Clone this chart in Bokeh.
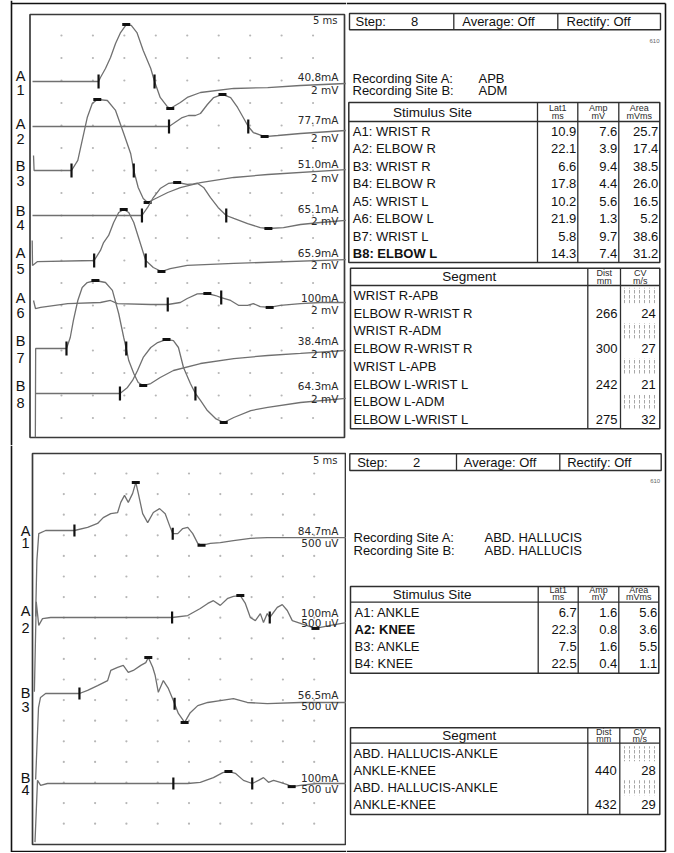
import numpy as np
from bokeh.plotting import figure
from bokeh.layouts import row, column
from bokeh.models import Range1d
from bokeh.core.properties import value
from bokeh.embed import file_html
from bokeh.resources import INLINE

# ============================ DATA ============================
SWEEP = "5 ms"

# ---------- upper study: recording APB / ADM, 2 mV ----------
up_step = 8
up_rec = ["APB", "ADM"]
up_sites = ["A1: WRIST R", "A2: ELBOW R", "B3: WRIST R", "B4: ELBOW R",
            "A5: WRIST L", "A6: ELBOW L", "B7: WRIST L", "B8: ELBOW L"]
up_lat = [10.9, 22.1, 6.6, 17.8, 10.2, 21.9, 5.8, 14.3]
up_amp = [7.6, 3.9, 9.4, 4.4, 5.6, 1.3, 9.7, 7.4]
up_area = [25.7, 17.4, 38.5, 26.0, 16.5, 5.2, 38.6, 31.2]
up_stim = ["40.8mA", "77.7mA", "51.0mA", "65.1mA", "65.9mA", "100mA", "38.4mA", "64.3mA"]
up_gain = "2 mV"
up_cross = [19.8, 34.7, 16.5, 31.2, 18.4, 30.4, 15.3, 26.3]
up_segments = ["WRIST R-APB", "ELBOW R-WRIST R", "WRIST R-ADM", "ELBOW R-WRIST R",
               "WRIST L-APB", "ELBOW L-WRIST L", "ELBOW L-ADM", "ELBOW L-WRIST L"]
up_dist = [None, 266, None, 300, None, 242, None, 275]
up_cv = [None, 24, None, 27, None, 21, None, 32]

# waveforms: time (ms) and amplitude (mV, relative to baseline)
up_a1_t = [0.4, 10.9, 11.2, 12.0, 12.8, 13.6, 14.4, 15.3, 16.1, 17.0, 18.0, 19.2, 19.8, 20.7, 21.8,
           22.3, 23.9, 25.0, 27.1, 32.4, 37.8, 43.0, 50.2]
up_a1_v = [0.0, 0.0, 0.38, 1.23, 2.27, 3.59, 4.63, 5.39, 5.30, 4.63, 2.93, 1.23, 0.0, -1.51, -2.36,
           -2.55, -1.99, -1.51, -1.04, -0.66, -0.57, -0.38, -0.19]
up_a2_t = [0.4, 22.1, 22.8, 24.2, 25.2, 26.3, 27.1, 28.2, 29.2, 30.6, 31.9, 33.0, 33.9, 34.7, 35.5,
           37.3, 39.4, 43.0, 50.2]
up_a2_v = [0.0, 0.0, 0.28, 0.85, 1.04, 1.04, 1.23, 2.08, 2.74, 3.03, 2.74, 1.80, 0.85, 0.0, -0.57,
           -0.95, -0.85, -0.66, -0.38]
up_b3_t = [0.56, 0.65, 6.6, 7.6, 8.3, 9.1, 9.9, 10.7, 12.3, 13.6, 14.9, 16.0, 16.5, 17.2, 18.0,
           18.7, 20.3, 21.9, 23.9, 27.1, 32.4, 37.8, 50.2]
up_b3_v = [1.42, 0.0, 0.0, 0.95, 2.84, 5.01, 6.34, 6.72, 6.62, 5.68, 3.50, 1.61, 0.0, -1.61, -2.65,
           -3.03, -2.55, -2.08, -1.61, -1.14, -0.66, -0.38, 0.09]
up_b4_t = [0.4, 17.8, 18.7, 19.6, 20.7, 22.0, 23.4, 25.0, 26.0, 26.6, 27.6, 28.7, 29.9, 31.2, 32.4,
           34.6, 36.6, 37.9, 40.3, 43.0, 46.2, 50.2]
up_b4_v = [0.0, 0.0, 0.76, 1.70, 2.55, 3.03, 3.12, 2.95, 3.00, 3.05, 2.65, 1.70, 0.76, 0.0, -0.28,
           -0.76, -1.14, -1.23, -1.14, -0.85, -0.66, -0.47]
up_a5_t = [0.35, 0.4, 1.2, 10.2, 11.2, 11.7, 12.5, 13.3, 14.1, 14.9, 15.7, 16.5, 17.2, 18.4, 19.6,
           20.9, 22.3, 25.0, 32.4, 50.2]
up_a5_v = [1.9, -0.47, -0.1, 0.0, 0.95, 1.70, 2.37, 3.59, 4.54, 4.82, 4.54, 3.59, 2.27, 0.0, -0.66,
           -1.04, -0.76, -0.47, -0.28, 0.09]
up_a6_t = [0.56, 0.87, 1.7, 6.0, 11.2, 12.8, 13.9, 19.2, 21.9, 23.9, 25.0, 26.6, 28.2, 29.5, 30.4,
           31.9, 33.2, 34.6, 35.5, 36.6, 38.1, 39.8, 43.0, 46.2, 50.2]
up_a6_v = [0.38, -0.38, -0.28, 0.09, 0.19, 0.38, 0.09, 0.0, 0.0, 0.19, 0.57, 1.0, 1.04, 0.85, 0.66,
           0.38, -0.09, -0.09, 0.09, -0.2, -0.28, -0.09, 0.09, 0.19, 0.19]
up_b7_t = [0.85, 0.9, 5.8, 6.4, 6.9, 7.6, 8.3, 9.1, 10.4, 12.0, 13.1, 14.1, 14.9, 15.3, 15.7,
           16.5, 17.2, 18.0, 19.2, 20.7, 22.8, 27.1, 32.4, 37.8, 43.0, 50.2]
up_b7_v = [-8.4, 0.0, 0.0, 1.04, 2.65, 4.54, 5.77, 6.24, 6.43, 6.24, 5.49, 3.31, 1.04, 0.0, -1.14,
           -2.37, -3.22, -3.50, -3.31, -2.74, -2.08, -1.42, -0.95, -0.66, -0.47, -0.19]
up_b8_t = [0.87, 14.3, 15.5, 16.3, 17.1, 18.0, 19.2, 20.3, 21.7, 22.8, 23.6, 24.4, 25.5, 26.3, 27.1,
           28.2, 29.5, 30.8, 32.4, 35.1, 37.8, 43.0, 50.2]
up_b8_v = [0.0, 0.0, 0.57, 1.23, 2.18, 3.41, 4.35, 4.82, 5.11, 5.01, 4.35, 2.46, 0.95, 0.0, -0.66,
           -1.61, -2.37, -2.74, -2.27, -1.61, -1.32, -0.85, -0.47]

# ---------- lower study: recording ABD. HALLUCIS, 500 uV ----------
lo_step = 2
lo_rec = ["ABD. HALLUCIS", "ABD. HALLUCIS"]
lo_sites = ["A1: ANKLE", "A2: KNEE", "B3: ANKLE", "B4: KNEE"]
lo_lat = [6.7, 22.3, 7.5, 22.5]
lo_amp = [1.6, 0.8, 1.6, 0.4]
lo_area = [5.6, 3.6, 5.5, 1.1]
lo_stim = ["84.7mA", "100mA", "56.5mA", "100mA"]
lo_gain = "500 uV"
lo_cross = [22.4, 37.9, 22.7, 35.1]
lo_segments = ["ABD. HALLUCIS-ANKLE", "ANKLE-KNEE", "ABD. HALLUCIS-ANKLE", "ANKLE-KNEE"]
lo_dist = [None, 440, None, 432]
lo_cv = [None, 28, None, 29]

lo_a1_t = [0.5, 0.7, 1.0, 2.1, 6.7, 8.8, 10.4, 11.3, 12.5, 13.6, 14.1, 14.7, 15.3, 16.0, 16.5,
           16.9, 17.6, 18.4, 19.3, 20.3, 21.2, 22.0, 22.4, 23.2, 24.0, 24.8, 25.6, 26.4, 27.0, 28.4,
           30.0, 32.1, 34.8, 37.5, 42.8, 50.1]
lo_a1_v = [-2.2, -0.77, -0.08, 0.0, 0.0, 0.08, 0.18, 0.33, 0.43, 0.46, 0.72, 0.90, 0.72, 0.95, 1.23,
           0.95, 0.43, 0.20, 0.46, 0.56, 0.43, 0.08, -0.08, -0.08, 0.05, 0.08, -0.08, -0.33, -0.38, -0.33,
           -0.31, -0.26, -0.20, -0.18, -0.18, -0.18]
lo_a2_t = [0.3, 0.6, 1.0, 1.6, 2.9, 22.3, 24.8, 26.8, 28.0, 28.9, 30.0, 31.2, 32.1, 33.2, 34.0,
           34.8, 35.6, 36.4, 36.9, 37.5, 37.9, 39.1, 39.9, 40.7, 41.5, 42.8, 45.2, 47.6, 50.1]
lo_a2_v = [-1.9, 0.4, -0.2, -0.03, 0.0, 0.0, 0.05, 0.23, 0.36, 0.43, 0.31, 0.49, 0.54, 0.56, 0.36,
           0.0, -0.08, 0.10, -0.13, 0.10, 0.0, 0.26, 0.33, 0.18, -0.08, -0.15, -0.28, -0.20, -0.13]
lo_b3_t = [0.5, 0.96, 1.28, 2.1, 7.5, 8.8, 10.4, 12.0, 12.5, 13.6, 14.5, 15.3, 16.1, 17.3, 18.1,
           18.5, 19.2, 19.6, 20.1, 20.9, 21.7, 22.5, 23.3, 24.3, 25.2, 26.4, 28.0, 30.0, 32.1, 34.3,
           37.5, 42.8, 50.1]
lo_b3_v = [-2.2, -0.36, -0.10, 0.0, 0.0, 0.08, 0.20, 0.33, 0.59, 0.67, 0.72, 0.54, 0.59, 0.72, 0.79,
           0.92, 0.67, 0.46, 0.03, 0.33, 0.13, -0.18, -0.51, -0.74, -0.49, -0.31, -0.23, -0.18, -0.13, -0.23,
           -0.26, -0.23, -0.23]
lo_b4_t = [0.4, 0.8, 1.3, 2.4, 22.5, 24.8, 26.8, 28.9, 30.4, 31.3, 32.4, 33.7, 35.1, 36.1, 36.9,
           37.7, 38.5, 39.6, 40.7, 41.4, 42.8, 45.4, 50.1]
lo_b4_v = [-1.5, 0.08, -0.05, 0.0, 0.0, 0.0, 0.03, 0.15, 0.28, 0.31, 0.26, 0.08, 0.0, 0.08, 0.15,
           0.03, 0.08, 0.03, -0.03, -0.08, -0.05, 0.0, 0.0]

# ============================ DRAWING ============================
SANS = value("Liberation Sans")
DJV = value("DejaVu Sans")
INK = "#111111"
LEFT_W, RIGHT_W = 346, 327
TOP_H, BOT_H = 445, 407


def blank(w, h, xr, yr):
    p = figure(width=w, height=h, x_range=Range1d(*xr), y_range=Range1d(*yr),
               output_backend="svg", toolbar_location=None, tools="",
               x_axis_type=None, y_axis_type=None, min_border=0)
    p.outline_line_color = None
    p.background_fill_color = "white"
    p.border_fill_color = "white"
    return p


def fl(a):
    return [float(x) for x in np.atleast_1d(a)]


def txt(p, x, y, s, size="13px", align="left", font=SANS, style="normal", color=INK):
    p.text(x=fl(x), y=fl(y), text=list(s), text_font=font, text_font_size=size,
           text_align=align, text_baseline="middle", text_font_style=style, text_color=color)


def seg(p, x0, y0, x1, y1, color="#2e2e2e", width=1.3):
    p.segment(x0=fl(x0), y0=fl(y0), x1=fl(x1), y1=fl(y1), line_color=color, line_width=width)


def trace_panel(h, geo, ref_y, panel_top, traces, lats, cross, sites, stim, gain,
                base_px, row_px, lab_x, letter_px, number_px, stim_px, gain_px,
                sweep_px, edge_y, tick):
    x0, pxms, ybot, pxmv = geo
    X = lambda px: (np.asarray(px, dtype=float) - x0) / pxms
    Y = lambda py: (ybot - np.asarray(py, dtype=float)) / pxmv
    p = blank(LEFT_W, h, (float(X(0)), float(X(LEFT_W))), (float(Y(ref_y[1])), float(Y(ref_y[0]))))
    gx, gy = np.meshgrid(np.arange(5, 50, 5), Y(row_px))
    p.scatter(fl(gx.ravel()), fl(gy.ravel()), size=2.2, fill_color="#b6b6b6", line_color=None)
    p.quad(left=[0.0], right=[50.0], bottom=[0.0], top=fl(Y(panel_top)),
           fill_color=None, line_color="#3a3a3a", line_width=1.7)
    seg(p, X(11), Y(ref_y[0]), X(11), Y(ref_y[1]), "#111111", 1.6)
    seg(p, X(11), Y(edge_y), X(LEFT_W), Y(edge_y), "#111111", 1.6)
    for i, (t, v) in enumerate(traces):
        t = np.asarray(t, float)
        v = np.asarray(v, float)
        yv = Y(base_px[i]) + v
        p.line(fl(t), fl(yv), line_color="#707070", line_width=1.3)
        after = t >= lats[i] - 1e-9
        ip = int(np.argmax(np.where(after, v, -np.inf)))
        it = int(np.argmin(np.where(after, v, np.inf)))
        tx = [lats[i], cross[i]]
        p.scatter(tx, fl(np.interp(tx, t, yv)), marker="dash", angle=np.pi / 2, size=tick,
                  line_width=2.2, line_color="#111111")
        p.scatter(fl([t[ip], t[it]]), fl([yv[ip], yv[it]]), marker="dash", size=8,
                  line_width=3, line_color="#111111")
    n = len(traces)
    txt(p, [X(lab_x)] * n, Y(letter_px), [s[0] for s in sites], "14.5px", "center")
    txt(p, [X(lab_x)] * n, Y(number_px), [s[1] for s in sites], "14.5px", "center")
    txt(p, [X(338)] * n, Y(stim_px), stim, "10.5px", "right", DJV, color="#2a2a2a")
    txt(p, [X(338)] * n, Y(gain_px), [gain] * n, "10.5px", "right", DJV, color="#2a2a2a")
    txt(p, [X(337)], [Y(sweep_px)], [SWEEP], "10px", "right", DJV, color="#2a2a2a")
    return p


up_traces = [(up_a1_t, up_a1_v), (up_a2_t, up_a2_v), (up_b3_t, up_b3_v), (up_b4_t, up_b4_v),
             (up_a5_t, up_a5_v), (up_a6_t, up_a6_v), (up_b7_t, up_b7_v), (up_b8_t, up_b8_v)]
lo_traces = [(lo_a1_t, lo_a1_v), (lo_a2_t, lo_a2_v), (lo_b3_t, lo_b3_v), (lo_b4_t, lo_b4_v)]

TL = trace_panel(TOP_H, (29.5, 6.29, 437.0, 10.575), (0, 445), 14, up_traces, up_lat, up_cross,
                 up_sites, up_stim, up_gain,
                 [81, 126, 170, 215, 260, 304, 348, 393], 35 + 22.5 * np.arange(18), 20,
                 [75, 123, 165, 210, 252, 297, 340, 385], [89, 138, 180, 224, 268, 312, 357, 402],
                 [76, 119, 163, 208, 252, 297, 340, 385], [89, 137, 177, 220, 264, 309, 353, 398],
                 20, 3, 14)
BL = trace_panel(BOT_H, (32.0, 6.26, 844.0, 39.09), (445, 852), 453, lo_traces, lo_lat, lo_cross,
                 lo_sites, lo_stim, lo_gain,
                 [530, 617, 693, 783], 473 + 20.6 * np.arange(18), 25,
                 [530, 610, 692, 777], [542, 627, 706, 789],
                 [530, 612, 694, 777], [542, 622, 705, 788],
                 460, 851, 12)

# ---------------- right-hand report column ----------------
R = blank(RIGHT_W, TOP_H + BOT_H, (LEFT_W, LEFT_W + RIGHT_W), (TOP_H + BOT_H, 0))
seg(R, [LEFT_W, 665, LEFT_W], [3, 3, 851], [665, 665, 665], [3, 851, 851], "#111111", 1.6)


def step_box(p, box, divs, ty, xs, step):
    l, r, t, b = box
    p.quad(left=[l], right=[r], top=[t], bottom=[b], fill_color=None, line_color="#2e2e2e", line_width=1.4)
    seg(p, divs, [t, t], divs, [b, b])
    txt(p, [xs[0], xs[2], xs[3]], [ty] * 3, ["Step:", "Average: Off", "Rectify: Off"])
    txt(p, [xs[1]], [ty], [str(step)], align="center")
    txt(p, [r - 1], [ty + 19], ["610"], "6px", "right", color="#666666")


def rec_sites(p, x, xv, ys, rec):
    txt(p, [x, x], ys, ["Recording Site A:", "Recording Site B:"])
    txt(p, [xv, xv], ys, rec)


def stim_table(p, box, hdr_y, cols, rows_y, title_x, sub_y, sites, lat, amp, area, bold):
    l, r, t, b = box
    p.quad(left=[l], right=[r], top=[t], bottom=[b], fill_color=None, line_color="#2e2e2e", line_width=1.5)
    seg(p, [l], [hdr_y], [r], [hdr_y])
    seg(p, cols, [t] * 3, cols, [b] * 3)
    txt(p, [title_x], [(t + hdr_y) / 2], ["Stimulus Site"], "13.5px", "center")
    cx = [(cols[0] + cols[1]) / 2, (cols[1] + cols[2]) / 2, (cols[2] + r) / 2]
    txt(p, cx, [sub_y[0]] * 3, ["Lat1", "Amp", "Area"], "9px", "center", color="#2a2a2a")
    txt(p, cx, [sub_y[1]] * 3, ["ms", "mV", "mVms"], "9px", "center", color="#2a2a2a")
    idx = [i for i in range(len(sites)) if i != bold]
    txt(p, [l + 4] * len(idx), [rows_y[i] for i in idx], [sites[i] for i in idx])
    txt(p, [l + 4], [rows_y[bold]], [sites[bold]], style="bold")
    for xr_, vals in zip([cols[1] - 1.5, cols[2] - 1.5, r - 1.5], [lat, amp, area]):
        txt(p, [xr_] * len(vals), rows_y, [f"{v:.1f}" for v in vals], align="right")


def seg_table(p, box, hdr_y, cols, rows_y, sub_y, names, dist, cv):
    l, r, t, b = box
    p.quad(left=[l], right=[r], top=[t], bottom=[b], fill_color=None, line_color="#2e2e2e", line_width=1.5)
    seg(p, [l], [hdr_y], [r], [hdr_y])
    seg(p, cols, [t] * 2, cols, [b] * 2)
    txt(p, [(l + cols[0]) / 2], [(t + hdr_y) / 2], ["Segment"], "13.5px", "center")
    cx = [(cols[0] + cols[1]) / 2, (cols[1] + r) / 2]
    txt(p, cx, [sub_y[0]] * 2, ["Dist", "CV"], "9px", "center", color="#2a2a2a")
    txt(p, cx, [sub_y[1]] * 2, ["mm", "m/s"], "9px", "center", color="#2a2a2a")
    txt(p, [l + 3] * len(names), rows_y, names)
    step = rows_y[1] - rows_y[0]
    empty = [i for i, c in enumerate(cv) if c is None]
    p.quad(left=[cols[1] + 2] * len(empty), right=[r - 2] * len(empty),
           top=[rows_y[i] - step / 2 + 1 for i in empty], bottom=[rows_y[i] + step / 2 - 1 for i in empty],
           fill_color="white", fill_alpha=0.0, line_color=None,
           hatch_pattern="vertical_dash", hatch_color="#a8a8a8", hatch_scale=5, hatch_weight=1.0)
    full = [i for i, c in enumerate(cv) if c is not None]
    txt(p, [cols[1] - 3] * len(full), [rows_y[i] for i in full], [str(dist[i]) for i in full], align="right")
    txt(p, [r - 4] * len(full), [rows_y[i] for i in full], [str(cv[i]) for i in full], align="right")


# upper block
step_box(R, (349, 660, 13, 29.3), [453.3, 557.3], 21, [355, 414, 461.7, 566], up_step)
rec_sites(R, 352, 478, [78.3, 90], up_rec)
stim_table(R, (348.3, 659.3, 102, 262), 121, [537, 577.3, 618.3], np.linspace(131, 253.3, 8).tolist(),
           432, (107, 115.5), up_sites, up_lat, up_amp, up_area, up_step - 1)
seg_table(R, (350, 659.3, 267.7, 428.3), 285, [587.3, 620], np.linspace(295, 419, 8).tolist(),
          (272, 280), up_segments, up_dist, up_cv)

# lower block
step_box(R, (349.3, 660.7, 453.3, 470), [456, 559.3], 461.7, [356.7, 416, 463.3, 566.7], lo_step)
rec_sites(R, 353, 484, [536.7, 550], lo_rec)
stim_table(R, (350, 658.3, 586, 672.7), 601.7, [537.7, 577.7, 618.3], np.linspace(612.3, 662.7, 4).tolist(),
           431.7, (589, 596.5), lo_sites, lo_lat, lo_amp, lo_area, lo_step - 1)
seg_table(R, (350, 659.3, 727.3, 814), 742.7, [587.3, 619.3], np.linspace(753.3, 804.3, 4).tolist(),
          (731, 738.5), lo_segments, lo_dist, lo_cv)

layout = row(column(TL, BL), R)
open("out.html", "w").write(file_html(layout, INLINE, title="Nerve conduction study"))
